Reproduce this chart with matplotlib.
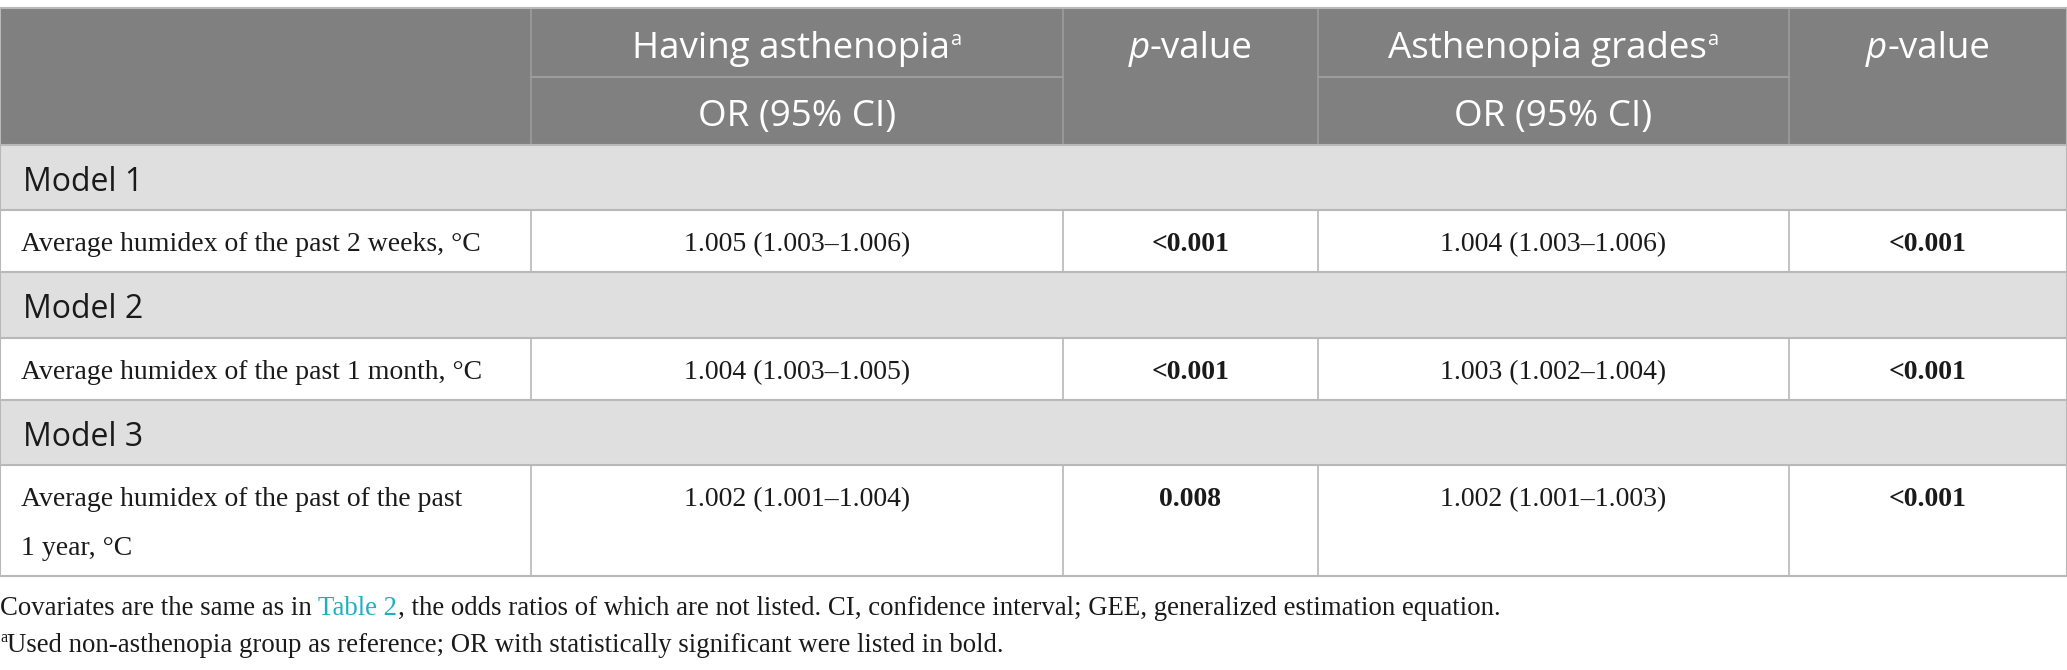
import matplotlib.pyplot as plt
from matplotlib.patches import Rectangle

# ---- table content ----
group_headers = ["Having asthenopia", "Asthenopia grades"]
sub_header = "OR (95% CI)"
model_names = ["Model 1", "Model 2", "Model 3"]
row_labels = [
    ["Average humidex of the past 2 weeks, °C"],
    ["Average humidex of the past 1 month, °C"],
    ["Average humidex of the past of the past", "1 year, °C"],
]
or_having = ["1.005 (1.003–1.006)", "1.004 (1.003–1.005)", "1.002 (1.001–1.004)"]
p_having = ["<0.001", "<0.001", "0.008"]
or_grades = ["1.004 (1.003–1.006)", "1.003 (1.002–1.004)", "1.002 (1.001–1.003)"]
p_grades = ["<0.001", "<0.001", "<0.001"]
note1 = ["Covariates are the same as in ", "Table 2",
         ", the odds ratios of which are not listed. CI, confidence interval; GEE, generalized estimation equation."]
note2 = "Used non-asthenopia group as reference; OR with statistically significant were listed in bold."

# ---- layout (pixels) ----
W, H = 2067, 670
cols = [0, 531, 1063, 1318, 1789, 2067]
rows = [8, 77, 145, 210, 272, 338, 400, 465, 576]

HEAD_BG = "#7f807f"
HEAD_LINE = "#9b9c9b"
MODEL_BG = "#e0dfe0"
GRID = "#b8b8b8"
TEAL = "#1fb0c0"

SANS = "Open Sans"
SERIF = "Liberation Serif"
head_fs = 26.5
model_fs = 23
body_fs = 20
note_fs = 19.3

fig = plt.figure(figsize=(W / 100, H / 100), dpi=100)
ax = fig.add_axes([0, 0, 1, 1])
ax.set_xlim(0, W)
ax.set_ylim(H, 0)
ax.axis("off")
renderer = fig.canvas.get_renderer()


def text_width(s, **kw):
    t = ax.text(0, 0, s + "x", **kw)
    t2 = ax.text(0, 0, "x", **kw)
    w = t.get_window_extent(renderer).width - t2.get_window_extent(renderer).width
    t.remove()
    t2.remove()
    return w


def draw_runs(x, y, parts, ha="left"):
    # parts: list of (text, props, dy)
    widths = [text_width(s, **kw) for s, kw, dy in parts]
    total = sum(widths)
    if ha == "center":
        x = x - total / 2
    for (s, kw, dy), w in zip(parts, widths):
        ax.text(x, y + dy, s, va="baseline", ha="left", **kw)
        x += w


# header background
ax.add_patch(Rectangle((0, rows[0]), W, rows[2] - rows[0], facecolor=HEAD_BG, edgecolor="none"))
# model rows background
for k in range(3):
    top = rows[2 + 2 * k]
    ax.add_patch(Rectangle((0, top), W, rows[3 + 2 * k] - top, facecolor=MODEL_BG, edgecolor="none"))

# header lines
ax.plot([cols[1], cols[2]], [rows[1], rows[1]], color=HEAD_LINE, lw=1.5)
ax.plot([cols[3], cols[4]], [rows[1], rows[1]], color=HEAD_LINE, lw=1.5)
for c in cols[1:5]:
    ax.plot([c, c], [rows[0], rows[2]], color=HEAD_LINE, lw=1.2)

# grid lines for body
ax.plot([0, W], [rows[0], rows[0]], color=GRID, lw=1.5)
for r in rows[2:]:
    ax.plot([0, W], [r, r], color=GRID, lw=1.5)
ax.plot([0, 0], [rows[0], rows[-1]], color=GRID, lw=1.5)
ax.plot([W, W], [rows[0], rows[-1]], color=GRID, lw=1.5)
for k in range(3):
    top, bot = rows[3 + 2 * k], rows[4 + 2 * k]
    for c in cols[1:5]:
        ax.plot([c, c], [top, bot], color=GRID, lw=1.2)

# header text
hs = dict(family=SANS, fontsize=head_fs, color="white")
sup = dict(family=SANS, fontsize=head_fs * 0.55, color="white")
for i, g in enumerate(group_headers):
    cx = (cols[1 + 2 * i] + cols[2 + 2 * i]) / 2
    draw_runs(cx, 58, [(g, hs, 0), ("a", sup, -13)], ha="center")
    ax.text(cx, 126, sub_header, va="baseline", ha="center", **hs)
    px = (cols[2 + 2 * i] + cols[3 + 2 * i]) / 2
    draw_runs(px, 58, [("p", dict(hs, style="italic"), 0), ("-value", hs, 0)], ha="center")

# model rows
for k, m in enumerate(model_names):
    ax.text(23, rows[2 + 2 * k] + 46, m, family=SANS, fontsize=model_fs,
            color="#1a1a1a", va="baseline", ha="left")

# data rows
bs = dict(family=SERIF, fontsize=body_fs, color="#1a1a1a")
for k in range(3):
    base = rows[3 + 2 * k] + 41
    for j, line in enumerate(row_labels[k]):
        ax.text(21, base + j * 49, line, va="baseline", ha="left", **bs)
    vals = [(or_having[k], False), (p_having[k], True), (or_grades[k], False), (p_grades[k], True)]
    for j, (v, bold) in enumerate(vals):
        cx = (cols[1 + j] + cols[2 + j]) / 2
        ax.text(cx, base, v, va="baseline", ha="center",
                fontweight="bold" if bold else "normal", **bs)

# footnotes
ns = dict(family=SERIF, fontsize=note_fs, color="#1a1a1a")
draw_runs(0, 615, [(note1[0], ns, 0), (note1[1], dict(ns, color=TEAL), 0), (note1[2], ns, 0)])
draw_runs(0, 652, [("a", dict(ns, fontsize=note_fs * 0.6), -10), (note2, ns, 0)])

fig.savefig("out.png", dpi=100)
